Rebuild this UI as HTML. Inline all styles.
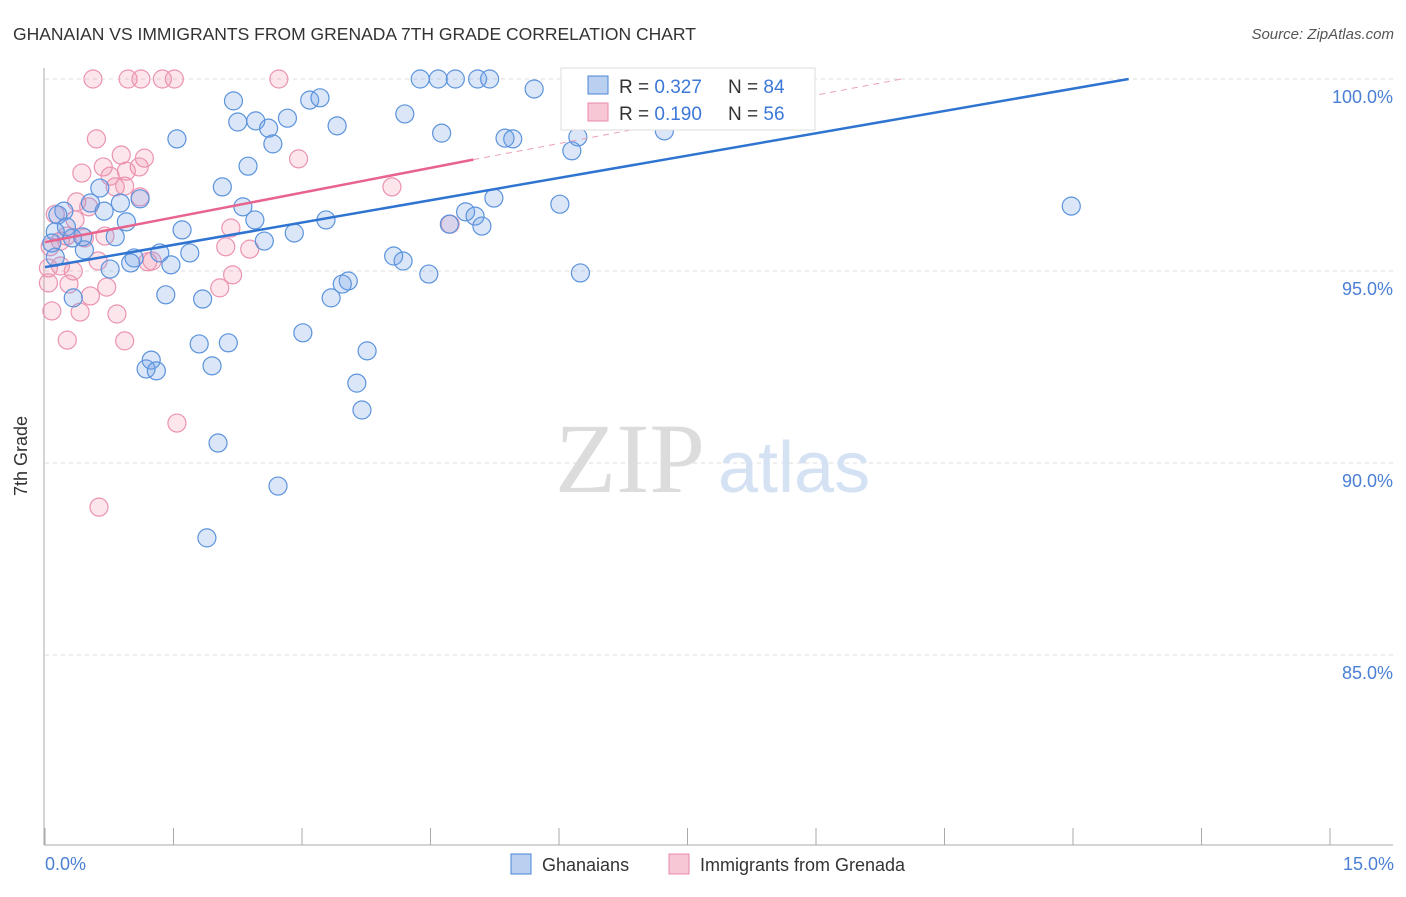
<!DOCTYPE html>
<html><head><meta charset="utf-8"><style>
body{margin:0;background:#fff;font-family:"Liberation Sans",sans-serif;}
svg text{font-family:"Liberation Sans",sans-serif;}
</style></head><body>
<svg id="chart" width="1406" height="892" viewBox="0 0 1406 892" xmlns="http://www.w3.org/2000/svg">
<text x="13" y="40" font-size="17.5" fill="#333">GHANAIAN VS IMMIGRANTS FROM GRENADA 7TH GRADE CORRELATION CHART</text>
<text x="1394" y="39" font-size="15" fill="#555" text-anchor="end" font-style="italic">Source: ZipAtlas.com</text>
<g id="grid"></g>
<text x="555" y="492" font-size="100" fill="#dcdcdc" font-family="Liberation Serif,serif" style="font-family:'Liberation Serif',serif">ZIP</text>
<text x="718" y="492" font-size="72" fill="#d4e2f4">atlas</text>
<g id="pts"></g>
<g id="lines"></g>
<text x="27" y="456" font-size="18" fill="#333" text-anchor="middle" transform="rotate(-90 27 456)">7th Grade</text>
<text x="45" y="870" font-size="18" fill="#4a7fd4">0.0%</text>
<text x="1394" y="870" font-size="18" fill="#4a7fd4" text-anchor="end">15.0%</text>
<g>
<rect x="561" y="68" width="254" height="62" fill="#fff" stroke="#ddd"/>
<rect x="588" y="76" width="20" height="18" fill="#b9d0f0" stroke="#4a86d8"/>
<rect x="588" y="103" width="20" height="18" fill="#f7c7d6" stroke="#e88aa8"/>
<text x="619" y="93" font-size="19" fill="#333">R = <tspan fill="#3b78d8">0.327</tspan></text>
<text x="728" y="93" font-size="19" fill="#333">N = <tspan fill="#3b78d8">84</tspan></text>
<text x="619" y="120" font-size="19" fill="#333">R = <tspan fill="#3b78d8">0.190</tspan></text>
<text x="728" y="120" font-size="19" fill="#333">N = <tspan fill="#3b78d8">56</tspan></text>
</g>
<g>
<rect x="511" y="854" width="20" height="20" fill="#b9d0f0" stroke="#4a86d8"/>
<text x="542" y="871" font-size="18" fill="#333">Ghanaians</text>
<rect x="669" y="854" width="20" height="20" fill="#f7c7d6" stroke="#e88aa8"/>
<text x="700" y="871" font-size="18" fill="#333">Immigrants from Grenada</text>
</g>
</svg>
<script>
const yTicks=[100,95,90,85];
const yTickLabels=["100.0%","95.0%","90.0%","85.0%"];
const xTicks=[0,1.5,3,4.5,6,7.5,9,10.5,12,13.5,15];
const blueX=[2.20,2.25,1.54,2.46,2.61,2.66,2.83,3.09,3.21,3.41,4.20,4.38,4.59,4.79,5.05,5.19,5.71,4.63,5.37,5.46,6.22,6.15,7.23,6.91,11.98,6.01,5.24,4.91,5.02,5.10,4.72,3.28,2.91,2.56,2.37,2.07,2.31,2.45,1.60,1.69,1.34,1.04,1.00,1.47,0.76,0.46,0.44,0.82,0.95,0.69,0.88,0.53,0.64,1.11,0.22,0.15,0.25,0.32,0.12,0.08,0.12,0.33,1.41,1.84,4.07,4.18,4.48,6.25,3.54,3.47,3.34,3.01,1.80,2.14,3.76,1.24,1.18,1.30,1.95,3.64,3.70,2.02,2.72,1.89];
const blueY=[99.43,98.88,98.44,98.91,98.72,98.31,98.98,99.45,99.51,98.78,99.09,100,100,100,100,100,99.74,98.59,98.46,98.44,98.49,98.13,98.65,100,96.69,96.74,96.90,96.54,96.43,96.17,96.22,96.33,95.99,95.78,97.73,97.19,96.67,96.33,96.07,95.47,95.47,95.34,95.21,95.16,95.05,95.55,95.89,95.89,96.28,96.56,96.77,96.77,97.16,96.88,96.56,96.46,96.15,95.86,96.02,95.73,95.36,94.30,94.38,94.27,95.39,95.26,94.92,94.95,94.74,94.66,94.30,93.39,93.10,93.13,92.92,92.68,92.45,92.40,92.53,92.08,91.38,90.52,89.40,88.05];
const pinkX=[0.56,0.97,1.12,1.37,1.51,2.73,0.60,0.89,1.16,2.96,0.68,1.10,0.43,0.95,0.76,0.82,0.93,4.05,1.11,0.37,0.51,0.12,0.35,2.17,4.73,0.25,0.18,0.70,0.46,2.11,2.39,0.06,0.62,1.25,1.20,0.18,0.04,0.33,0.04,0.28,0.72,2.19,2.04,0.53,0.08,0.41,0.84,0.26,0.93,1.54,0.63];
const pinkY=[100,100,100,100,100,100,98.44,98.02,97.94,97.92,97.71,97.71,97.55,97.60,97.47,97.19,97.21,97.19,96.93,96.80,96.67,96.48,96.33,96.12,96.22,95.91,95.78,95.91,95.86,95.63,95.57,95.63,95.26,95.26,95.24,95.13,95.08,95.00,94.69,94.66,94.58,94.90,94.56,94.35,93.96,93.93,93.88,93.20,93.18,91.04,88.85];
const blueTrend=[0,95.1,12.65,100];
const pinkTrend=[0,95.75,5.0,97.9,10.0,100];
const NS="http://www.w3.org/2000/svg";
const xs=v=>45+v/15*1285;
const ys=v=>79+(100-v)/5*192;
function mk(tag,attrs,parent){const e=document.createElementNS(NS,tag);for(const k in attrs)e.setAttribute(k,attrs[k]);parent.appendChild(e);return e;}
const grid=document.getElementById('grid');
yTicks.forEach((t,i)=>{
 const l=mk('line',{x1:45,x2:1393,y1:ys(t),y2:ys(t),stroke:'#ddd','stroke-dasharray':'4,4'},grid);
 
 
 const tx=mk('text',{x:1393,y:ys(t)+24,'font-size':18,fill:'#4a7fd4','text-anchor':'end'},grid);
 tx.textContent=yTickLabels[i];
 
 
});
const ax=mk('line',{x1:44,x2:44,y1:68,y2:845,stroke:'#aaa'},grid);


const bx=mk('line',{x1:44,x2:1393,y1:845,y2:845,stroke:'#aaa'},grid);


xTicks.forEach(t=>{
 const l=mk('line',{x1:xs(t),x2:xs(t),y1:828,y2:845,stroke:'#aaa'},grid);
 
 
});
const pts=document.getElementById('pts');
pinkX.forEach((x,i)=>{
 const c=mk('circle',{cx:xs(x),cy:ys(pinkY[i]),r:9,fill:'rgba(240,140,170,0.22)',stroke:'#eb93b0','stroke-width':1.2},pts);
 
 
});
blueX.forEach((x,i)=>{
 const c=mk('circle',{cx:xs(x),cy:ys(blueY[i]),r:9,fill:'rgba(110,160,230,0.25)',stroke:'#5b93dc','stroke-width':1.2},pts);
 
 
});
const lines=document.getElementById('lines');
const bl=mk('line',{x1:xs(blueTrend[0]),y1:ys(blueTrend[1]),x2:xs(blueTrend[2]),y2:ys(blueTrend[3]),stroke:'#2f74d0','stroke-width':2.5},lines);


const pl=mk('line',{x1:xs(pinkTrend[0]),y1:ys(pinkTrend[1]),x2:xs(pinkTrend[2]),y2:ys(pinkTrend[3]),stroke:'#e8648e','stroke-width':2.5},lines);


const pd=mk('line',{x1:xs(pinkTrend[2]),y1:ys(pinkTrend[3]),x2:xs(pinkTrend[4]),y2:ys(pinkTrend[5]),stroke:'#eaa0b8','stroke-width':1,'stroke-dasharray':'6,5'},lines);


</script>
</body></html>
